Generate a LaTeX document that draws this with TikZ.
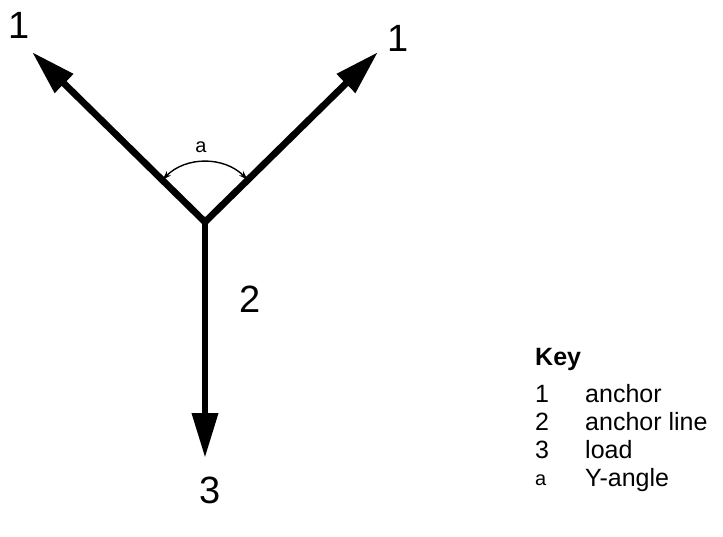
\documentclass[tikz,border=0pt]{standalone}
\usepackage{fontspec}
\setmainfont{Liberation Sans}
\usetikzlibrary{arrows.meta,calc}
\tikzset{
  arm/.style={line width=6.8pt, line join=miter, -{Triangle[length=45pt,width=25pt]}},
  anglearc/.style={line width=1.4pt, {Stealth[length=9pt,width=6pt]}-{Stealth[length=9pt,width=6pt]}},
  big/.style={font=\fontsize{38}{46}\selectfont, anchor=base, inner sep=0pt},
  keytxt/.style={font=\fontsize{25}{30}\selectfont, anchor=base west, inner sep=0pt},
  small/.style={font=\fontsize{20}{24}\selectfont, anchor=base, inner sep=0pt},
}
\begin{document}
\begin{tikzpicture}[x=1pt,y=-1pt]
\useasboundingbox (0,0) rectangle (723,537);
% points
\coordinate (J) at (205,222);
\coordinate (L) at (32,52);
\coordinate (R) at (378,52);
\coordinate (D) at (205,458);
\coordinate (AL) at (162.6,179.6);
% arms
\draw[line width=6.8pt, line join=miter, {Triangle[length=45pt,width=25pt]}-{Triangle[length=45pt,width=25pt]}] (L) -- (J) -- (R);
\draw[arm] (J) -- (D);
% angle arc
\draw[anglearc] (AL) arc[start angle=-135, end angle=-45, radius=60];
% labels
\node[small] (la) at (201,153) {a};
\node[big] (l1a) at (19,39) {1};
\node[big] (l1b) at (398,52) {1};
\node[big] (l2) at (250,313) {2};
\node[big] (l3) at (210,503) {3};
% key
\node[keytxt, font=\fontsize{25}{30}\selectfont\bfseries] (key) at (535,365) {Key};
\node[keytxt] (k1) at (535,402) {1};
\node[keytxt] (k2) at (535,430) {2};
\node[keytxt] (k3) at (535,458) {3};
\node[keytxt, font=\fontsize{20}{24}\selectfont] (ka) at (535,485) {a};
\node[keytxt] (t1) at (585,402) {anchor};
\node[keytxt] (t2) at (585,430) {anchor line};
\node[keytxt] (t3) at (585,458) {load};
\node[keytxt] (ta) at (585,486) {Y-angle};
\end{tikzpicture}
\end{document}
